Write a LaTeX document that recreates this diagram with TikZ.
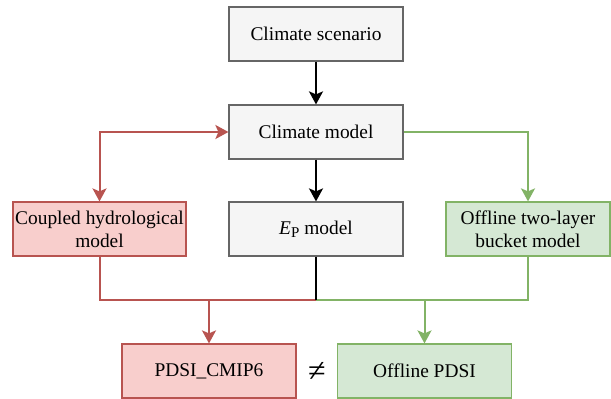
\documentclass[tikz,border=0pt]{standalone}
\usepackage{fontspec}
\setmainfont{Liberation Serif}
\usetikzlibrary{arrows.meta}

\definecolor{greyfill}{HTML}{F5F5F5}
\definecolor{greyline}{HTML}{666666}
\definecolor{redfill}{HTML}{F8CECC}
\definecolor{redline}{HTML}{B85450}
\definecolor{greenfill}{HTML}{D5E8D4}
\definecolor{greenline}{HTML}{82B366}

\tikzset{
  box/.style={rectangle, line width=1.2pt, minimum width=174pt, minimum height=54pt,
    inner sep=0pt, align=center, font=\fontsize{19.4}{23}\selectfont},
  greybox/.style={box, draw=greyline, fill=greyfill},
  redbox/.style={box, draw=redline, fill=redfill},
  greenbox/.style={box, draw=greenline, fill=greenfill},
  flow/.style={line width=2pt},
}

\begin{document}
\begin{tikzpicture}[x=1pt,y=-1pt,>={Stealth[length=13pt,width=14pt,inset=3pt]}]
\useasboundingbox (0,0) rectangle (611,399);

\node[greybox] (scen) at (316,34)  {Climate scenario};
\node[greybox] (clim) at (316,132) {Climate model};
\node[greybox] (ep)   at (316,229) {\textit{E}\raisebox{-0.3ex}{\fontsize{15}{15}\selectfont P} model};
\node[redbox, minimum width=173pt]   (coup) at (99.5,229) {Coupled hydrological\\model};
\node[greenbox, minimum width=164pt] (buck) at (528,229) {Offline two-layer\\bucket model};
\node[redbox]   (cmip) at (209,371)   {PDSI\_CMIP6};
\node[greenbox] (offl) at (424.5,371) {Offline PDSI};
\node[font=\fontsize{32}{32}\selectfont, inner sep=0pt] (neq) at (317,372) {\symbol{"2260}};

\coordinate (join) at (316,300);

\draw[flow, ->] (scen) -- (clim);
\draw[flow, ->] (clim) -- (ep);
\draw[flow, redline, <->] (clim.west) -| (coup.north);
\draw[flow, greenline, ->] (clim.east) -| (buck.north);

\draw[flow, redline] (coup.south) |- (join);
\draw[flow, greenline] (buck.south) |- (join);
\draw[flow] (ep.south) -- (join);
\draw[flow, redline, ->] (cmip.north |- join) -- (cmip.north);
\draw[flow, greenline, ->] (offl.north |- join) -- (offl.north);
\end{tikzpicture}
\end{document}
